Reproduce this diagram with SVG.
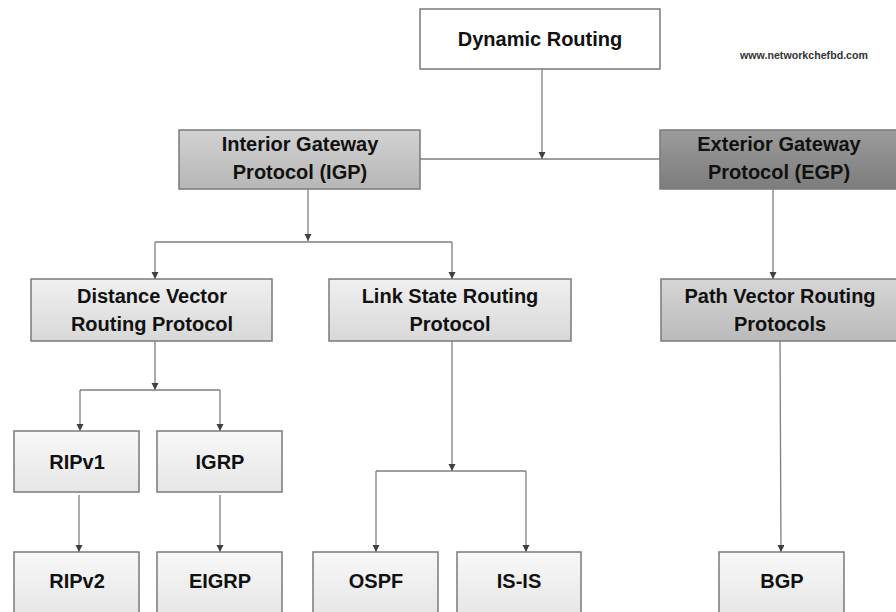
<svg xmlns="http://www.w3.org/2000/svg" width="896" height="612" viewBox="0 0 896 612">
<defs>
<linearGradient id="gIGP" x1="0" y1="0" x2="0" y2="1"><stop offset="0" stop-color="#d2d2d2"/><stop offset="1" stop-color="#b6b6b6"/></linearGradient>
<linearGradient id="gEGP" x1="0" y1="0" x2="0" y2="1"><stop offset="0" stop-color="#9c9c9c"/><stop offset="1" stop-color="#7c7c7c"/></linearGradient>
<linearGradient id="gMid" x1="0" y1="0" x2="0" y2="1"><stop offset="0" stop-color="#f0f0f0"/><stop offset="1" stop-color="#d8d8d8"/></linearGradient>
<linearGradient id="gPV" x1="0" y1="0" x2="0" y2="1"><stop offset="0" stop-color="#d6d6d6"/><stop offset="1" stop-color="#bababa"/></linearGradient>
<linearGradient id="gLeaf" x1="0" y1="0" x2="0" y2="1"><stop offset="0" stop-color="#f8f8f8"/><stop offset="1" stop-color="#e6e6e6"/></linearGradient>
<marker id="arr" markerUnits="userSpaceOnUse" markerWidth="8" markerHeight="8" refX="7" refY="3.5" orient="auto"><path d="M0,0 L7,3.5 L0,7 z" fill="#404040"/></marker>
<style>
.box{stroke:#7a7a7a;stroke-width:1.5}
.t{font-family:"Liberation Sans",Arial,sans-serif;font-weight:bold;font-size:20px;fill:#111;text-anchor:middle}
.c{fill:none;stroke:#7f7f7f;stroke-width:1.3}
.a{marker-end:url(#arr)}
</style>
</defs>
<rect width="896" height="612" fill="#ffffff"/>
<g id="connectors">
<path class="c a" d="M542,69 V159"/>
<path class="c" d="M420,159 H660"/>
<path class="c a" d="M308,189 V241"/>
<path class="c" d="M155,242 H452"/>
<path class="c a" d="M155,242 V279"/>
<path class="c a" d="M452,242 V279"/>
<path class="c a" d="M773,189 V279"/>
<path class="c a" d="M155,341 V390"/>
<path class="c" d="M80,390 H220"/>
<path class="c a" d="M80,390 V431"/>
<path class="c a" d="M220,390 V431"/>
<path class="c a" d="M79,495 V552"/>
<path class="c a" d="M220,495 V552"/>
<path class="c a" d="M452,341 V471"/>
<path class="c" d="M376,471 H526"/>
<path class="c a" d="M376,471 V552"/>
<path class="c a" d="M526,471 V552"/>
<path class="c a" d="M780,341 L781,552"/>
</g>
<g id="dynamic-routing"><rect class="box" x="420" y="9" width="240" height="60" fill="#ffffff"/><text class="t" x="540" y="46">Dynamic Routing</text></g>
<text id="watermark" x="804" y="59" font-family="'Liberation Sans',Arial,sans-serif" font-size="10.5" font-weight="bold" fill="#333" text-anchor="middle" textLength="128" lengthAdjust="spacingAndGlyphs">www.networkchefbd.com</text>
<g id="igp"><rect class="box" x="179" y="130" width="241" height="59" fill="url(#gIGP)"/><text class="t" x="300" y="151">Interior Gateway</text><text class="t" x="300" y="179">Protocol (IGP)</text></g>
<g id="egp"><rect class="box" x="660" y="130" width="238" height="59" fill="url(#gEGP)"/><text class="t" x="779" y="151">Exterior Gateway</text><text class="t" x="779" y="179">Protocol (EGP)</text></g>
<g id="distance-vector"><rect class="box" x="31" y="279" width="241" height="62" fill="url(#gMid)"/><text class="t" x="152" y="303">Distance Vector</text><text class="t" x="152" y="331">Routing Protocol</text></g>
<g id="link-state"><rect class="box" x="329" y="279" width="242" height="62" fill="url(#gMid)"/><text class="t" x="450" y="303">Link State Routing</text><text class="t" x="450" y="331">Protocol</text></g>
<g id="path-vector"><rect class="box" x="661" y="279" width="237" height="62" fill="url(#gPV)"/><text class="t" x="780" y="303">Path Vector Routing</text><text class="t" x="780" y="331">Protocols</text></g>
<g id="ripv1"><rect class="box" x="14" y="431" width="125" height="61" fill="url(#gLeaf)"/><text class="t" x="77" y="469">RIPv1</text></g>
<g id="igrp"><rect class="box" x="157" y="431" width="125" height="61" fill="url(#gLeaf)"/><text class="t" x="220" y="469">IGRP</text></g>
<g id="ripv2"><rect class="box" x="14" y="552" width="125" height="62" fill="url(#gLeaf)"/><text class="t" x="77" y="588">RIPv2</text></g>
<g id="eigrp"><rect class="box" x="157" y="552" width="125" height="62" fill="url(#gLeaf)"/><text class="t" x="220" y="588">EIGRP</text></g>
<g id="ospf"><rect class="box" x="313" y="552" width="125" height="62" fill="url(#gLeaf)"/><text class="t" x="376" y="588">OSPF</text></g>
<g id="is-is"><rect class="box" x="457" y="552" width="124" height="62" fill="url(#gLeaf)"/><text class="t" x="519" y="588">IS-IS</text></g>
<g id="bgp"><rect class="box" x="719" y="552" width="125" height="62" fill="url(#gLeaf)"/><text class="t" x="782" y="588">BGP</text></g>
</svg>
